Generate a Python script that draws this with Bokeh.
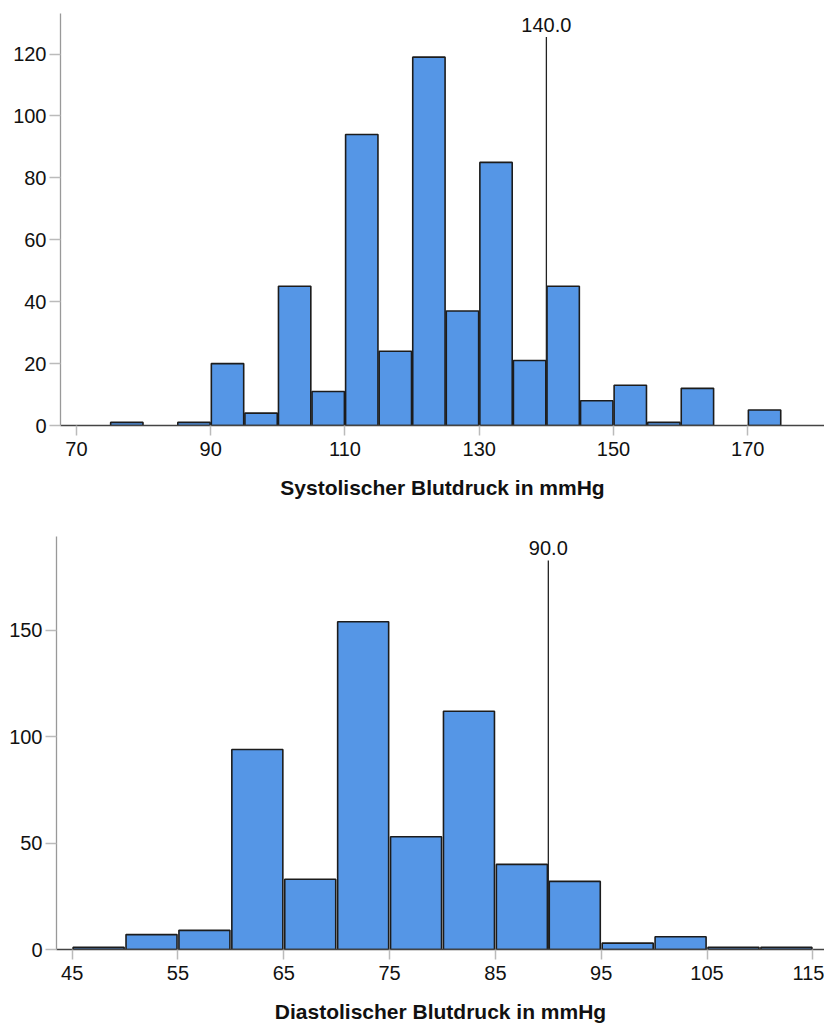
from bokeh.plotting import figure
from bokeh.layouts import column, row
from bokeh.models import FixedTicker, Range1d
from bokeh.core.properties import value
from bokeh.embed import file_html
from bokeh.resources import INLINE

# Systolic blood pressure histogram (bin width 5 mmHg)
sys_edges = [75, 80, 85, 90, 95, 100, 105, 110, 115, 120, 125, 130, 135, 140,
             145, 150, 155, 160, 165, 170, 175]
sys_counts = [1, 0, 1, 20, 4, 45, 11, 94, 24, 119, 37, 85, 21, 45, 8, 13, 1, 12, 0, 5]
sys_xticks = [70, 90, 110, 130, 150, 170]
sys_yticks = [0, 20, 40, 60, 80, 100, 120]
sys_ref = 140.0

# Diastolic blood pressure histogram (bin width 5 mmHg)
dia_edges = [45, 50, 55, 60, 65, 70, 75, 80, 85, 90, 95, 100, 105, 110, 115]
dia_counts = [1, 7, 9, 94, 33, 154, 53, 112, 40, 32, 3, 6, 1, 1]
dia_xticks = [45, 55, 65, 75, 85, 95, 105, 115]
dia_yticks = [0, 50, 100, 150]
dia_ref = 90.0

FONT = "Liberation Sans"
BAR_FILL = "#5596e6"
BAR_LINE = "#1c1c1c"
TEXT = "#111111"


def histogram(edges, counts, xticks, yticks, ref, xlabel, xr, yr, height,
              border_left, border_top, border_bottom, ref_top, ref_label_y):
    p = figure(width=824, height=height, output_backend="svg",
               toolbar_location=None, x_range=Range1d(*xr), y_range=Range1d(*yr),
               min_border_left=border_left, min_border_right=0,
               min_border_top=border_top, min_border_bottom=border_bottom)
    p.outline_line_color = None
    p.xgrid.visible = False
    p.ygrid.visible = False
    p.background_fill_color = "white"
    p.border_fill_color = "white"

    gap = 0.09
    lefts, rights, tops = [], [], []
    for i, c in enumerate(counts):
        if c > 0:
            lefts.append(edges[i] + gap)
            rights.append(edges[i + 1] - gap)
            tops.append(c)
    p.quad(left=lefts, right=rights, bottom=0, top=tops,
           fill_color=BAR_FILL, line_color=BAR_LINE, line_width=1.6)

    # reference line with its value label
    p.segment(x0=[ref], y0=[0], x1=[ref], y1=[ref_top], line_color="#222222", line_width=1.3)
    p.text(x=[ref], y=[ref_label_y], text=[f"{ref:.1f}"], text_align="center",
           text_baseline="middle", text_font=value(FONT), text_font_size="20px",
           text_color=TEXT)

    xa = p.xaxis[0]
    xa.ticker = FixedTicker(ticks=xticks)
    xa.axis_label = xlabel
    xa.axis_label_text_font = FONT
    xa.axis_label_text_font_style = "bold"
    xa.axis_label_text_font_size = "21px"
    xa.axis_label_text_color = TEXT
    xa.axis_label_standoff = 17
    xa.major_label_text_font = FONT
    xa.major_label_text_font_size = "20px"
    xa.major_label_text_color = TEXT
    xa.major_label_standoff = 6
    xa.axis_line_color = "#444444"
    xa.axis_line_width = 1.3
    xa.major_tick_line_color = "#bbbbbb"
    xa.major_tick_line_width = 1.5
    xa.major_tick_in = 0
    xa.major_tick_out = 10
    xa.minor_tick_line_color = None

    ya = p.yaxis[0]
    ya.ticker = FixedTicker(ticks=yticks)
    ya.major_label_text_font = FONT
    ya.major_label_text_font_size = "20px"
    ya.major_label_text_color = TEXT
    ya.major_label_standoff = 3
    ya.axis_line_color = "#999999"
    ya.axis_line_width = 1.3
    ya.major_tick_line_color = "#bbbbbb"
    ya.major_tick_line_width = 1.5
    ya.major_tick_in = 0
    ya.major_tick_out = 11
    ya.minor_tick_line_color = None
    return p


p1 = histogram(sys_edges, sys_counts, sys_xticks, sys_yticks, sys_ref,
               "Systolischer Blutdruck in mmHg", (67.62, 181.43), (0, 133.1),
               height=510, border_left=60, border_top=13, border_bottom=85,
               ref_top=125.5, ref_label_y=129.4)
p2 = histogram(dia_edges, dia_counts, dia_xticks, dia_yticks, dia_ref,
               "Diastolischer Blutdruck in mmHg", (43.52, 116.1), (0, 194.1),
               height=515, border_left=56, border_top=26, border_bottom=75,
               ref_top=182.8, ref_label_y=188.6)

# each chart in its own row so the two frames keep their own left borders
layout = column(row(p1), row(p2), spacing=0)
open("out.html", "w").write(file_html(layout, INLINE))
